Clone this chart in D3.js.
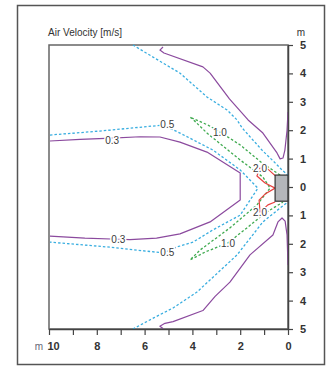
<!DOCTYPE html>
<html><head><meta charset="utf-8">
<script src="https://cdn.jsdelivr.net/npm/d3@7"></script>
<style>
html,body{margin:0;padding:0;background:#fff;}
svg text{font-family:"Liberation Sans Narrow","Liberation Sans",Arial,sans-serif;}
</style></head>
<body>
<svg id="c" width="331" height="366"></svg>
<script>
// ---- data (x in m from device, y in m; + above axis, - below) ----
const xTickValues = [10,9,8,7,6,5,4,3,2,1,0];
const xTickLabels = ["10","","8","","6","","4","","2","","0"];
const yTickValues = [5,4,3,2,1,0,-1,-2,-3,-4,-5];
const yTickLabels = ["5","4","3","2","1","0","1","2","3","4","5"];

const purpleOuterTop = [[5.23,4.93],[5.36,4.82],[5.19,4.72],[3.56,4.23],[3.26,4.01],[2.45,3.1],[1.67,2.36],[1.05,1.90],[0.46,1.20],[0.33,0.99],[0.21,1.02],[0.13,1.30],[0.04,2.0],[0.0,2.64]];
const purpleOuterBottom = [[5.23,-4.98],[5.36,-4.90],[5.15,-4.80],[4.81,-4.74],[3.56,-4.35],[3.05,-3.85],[2.43,-3.35],[1.59,-2.39],[0.63,-1.69],[0.42,-1.23],[0.25,-1.09],[0.12,-1.2],[0.04,-1.69],[0.0,-2.75]];
const purpleInner = [[9.96,1.62],[8.7,1.68],[7.36,1.72],[6.19,1.77],[5.36,1.76],[4.52,1.58],[3.39,1.23],[2.0,0.49],[2.0,-0.46],[3.26,-1.23],[4.52,-1.65],[5.5,-1.80],[6.61,-1.85],[7.11,-1.84],[8.5,-1.80],[9.96,-1.73]];

const blueOuterTop = [[6.49,5.0],[5.6,4.55],[4.52,4.01],[3.9,3.55],[3.39,3.17],[2.55,2.71],[2.13,2.36],[1.92,2.08],[1.09,1.30],[0.54,0.85],[0.25,0.60],[0.0,0.42]];
const blueOuterBottom = [[6.49,-5.0],[5.6,-4.6],[4.81,-4.26],[3.81,-3.70],[2.13,-2.39],[1.05,-1.23],[0.33,-0.74],[0.0,-0.53]];
const blueInner = [[9.96,1.83],[7.87,1.97],[5.23,2.18],[4.52,1.90],[3.14,1.30],[2.0,0.60],[1.26,-0.04],[2.0,-0.99],[3.14,-1.51],[3.97,-1.94],[4.64,-2.11],[5.23,-2.32],[7.57,-2.11],[9.96,-1.94]];

const green10 = [[0.33,0.42],[1.09,0.85],[2.0,1.48],[2.85,1.94],[3.35,2.18],[4.10,2.46],[4.0,2.40],[3.39,1.90],[2.0,0.95],[1.05,0.35],[0.75,-0.04],[1.30,-0.63],[2.43,-1.44],[3.68,-2.22],[4.10,-2.57],[3.47,-2.29],[2.51,-1.97],[1.72,-1.44],[0.96,-0.92],[0.21,-0.53]];

const red20 = [[0.54,0.40],[0.84,0.63],[1.17,0.67],[1.30,0.39],[0.96,0.14],[0.54,-0.04],[0.96,-0.25],[1.21,-0.46],[1.17,-0.88],[0.84,-0.63],[0.54,-0.53]];

const device = {x0:0.54, x1:0.0, y0:0.42, y1:-0.5};

const labelsText = ["0.3","0.3","0.5","0.5","1.0","1.0","2.0","2.0"];
const labelsPos = [[7.36,1.65],[7.10,-1.84],[5.05,2.2],[5.05,-2.32],[2.85,1.94],[2.51,-1.97],[1.17,0.67],[1.17,-0.88]];

// ---- drawing ----
const svg = d3.select("#c");
const x = d3.scaleLinear().domain([10,0]).range([49,288]);
const y = d3.scaleLinear().domain([5,-5]).range([45,329]);

// outer frame
svg.append("rect").attr("x",17.5).attr("y",5.5).attr("width",307).attr("height",359)
  .attr("fill","none").attr("stroke","#555").attr("stroke-width",1.5);

// plot box
svg.append("rect").attr("x",x(10)).attr("y",y(5)).attr("width",x(0)-x(10)).attr("height",y(-5)-y(5))
  .attr("fill","none").attr("stroke","#666").attr("stroke-width",1.5);

const line = d3.line().x(d=>x(d[0])).y(d=>y(d[1]));
const g = svg.append("g");
function draw(data,color,dash,w){
  g.append("path").attr("d",line(data)).attr("fill","none").attr("stroke",color)
   .attr("stroke-width",w||1.2).attr("stroke-dasharray",dash||null).attr("stroke-linejoin","round");
}
const purple="#8b4a9e", blue="#3aaee0", green="#3faa4f", red="#e8403e";
draw(blueOuterTop,blue,"2.5,2",1.3);
draw(blueOuterBottom,blue,"2.5,2",1.3);
draw(blueInner,blue,"2.5,2",1.3);
draw(green10,green,"2.5,2",1.3);
draw(purpleOuterTop,purple,null,1.2);
draw(purpleOuterBottom,purple,null,1.2);
draw(purpleInner,purple,null,1.2);
draw(red20,red,null,1.2);

// device
svg.append("rect").attr("x",x(device.x0)).attr("y",y(device.y0))
  .attr("width",x(device.x1)-x(device.x0)).attr("height",y(device.y1)-y(device.y0))
  .attr("fill","#b4b6ba").attr("stroke","#333").attr("stroke-width",1.2);

// contour labels
svg.append("g").selectAll("text").data(labelsText).join("text")
  .attr("x",(d,i)=>x(labelsPos[i][0])).attr("y",(d,i)=>y(labelsPos[i][1]))
  .attr("dy","0.36em").attr("text-anchor","middle")
  .attr("font-size",10).attr("fill","#3a3a3a")
  .attr("stroke","#fff").attr("stroke-width",3).attr("paint-order","stroke")
  .text(d=>d);

// axes
const xAxis = d3.axisBottom(x).tickValues(xTickValues).tickFormat((d,i)=>xTickLabels[i]).tickSize(6).tickPadding(7).tickSizeOuter(0);
const gx = svg.append("g").attr("transform",`translate(0,${y(-5)})`).call(xAxis);
gx.select(".domain").attr("stroke","#444").attr("stroke-width",1.5);
gx.selectAll(".tick line").attr("stroke","#444").attr("stroke-width",1.2);
gx.selectAll(".tick text").attr("font-size",11).attr("fill","#333").attr("font-weight","bold")
  .attr("font-family",'"Liberation Sans Narrow","Liberation Sans",Arial,sans-serif')
  .attr("dx",d=>d===10?4:0);

const yAxis = d3.axisRight(y).tickValues(yTickValues).tickFormat((d,i)=>yTickLabels[i]).tickSize(5).tickPadding(7).tickSizeOuter(0);
const gy = svg.append("g").attr("transform",`translate(${x(0)},0)`).call(yAxis);
gy.select(".domain").attr("stroke","#444").attr("stroke-width",1.5);
gy.selectAll(".tick line").attr("stroke","#444").attr("stroke-width",1.2);
gy.selectAll(".tick text").attr("font-size",11).attr("fill","#333").attr("font-weight","bold")
  .attr("font-family",'"Liberation Sans Narrow","Liberation Sans",Arial,sans-serif');

// titles
svg.append("text").attr("x",48).attr("y",36).attr("font-size",10).attr("fill","#333")
  .attr("textLength",74).attr("lengthAdjust","spacingAndGlyphs").text("Air Velocity [m/s]");
svg.append("text").attr("x",301).attr("y",36).attr("text-anchor","middle").attr("font-size",10).attr("fill","#333").text("m");
svg.append("text").attr("x",39).attr("y",350).attr("text-anchor","middle").attr("font-size",10).attr("fill","#667").text("m");
</script>
</body></html>
